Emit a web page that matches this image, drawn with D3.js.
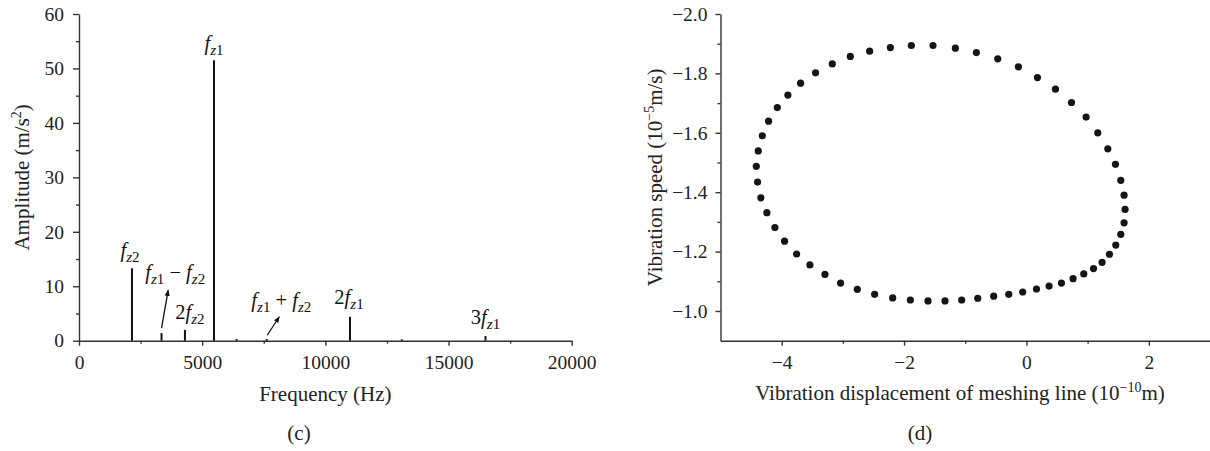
<!DOCTYPE html>
<html>
<head>
<meta charset="utf-8">
<script src="https://cdn.jsdelivr.net/npm/d3@7"></script>
<style>
  body { margin: 0; background: #fff; }
  svg { display: block; font-family: "Liberation Serif", "DejaVu Serif", serif; }
  .axis path, .axis line { stroke: #333; stroke-width: 1.4px; }
  .axis text { font-family: "Liberation Serif", serif; font-size: 19.5px; fill: #222; }
</style>
</head>
<body>
<div id="chart"></div>
<script>
// spectrum (c)
const spectrumFreq = [2150, 3350, 4300, 5480, 6400, 7620, 11000, 13100, 16500];
const spectrumAmp  = [13.3, 1.4, 2.0, 51.5, 0.3, 0.3, 4.4, 0.25, 0.85];
const freqTicks = [0, 5000, 10000, 15000, 20000];
const ampTicks = [0, 10, 20, 30, 40, 50, 60];

// peak labels: [frequency of peak, prefix, subscript]
const peakLabels = [
  [2150, "", "z2"],
  [5480, "", "z1"],
  [4300, "2", "z2"],
  [11000, "2", "z1"],
  [16500, "3", "z1"]
];
// arrow labels: [from freq, from amp, to freq, to amp, operator]
const arrowLabels = [
  [3350, 2.3, 3620, 9.3, "−"],
  [7640, 1.0, 8130, 4.4, "+"]
];

// phase portrait (d)
const dispX = [-4.111, -4.242, -4.340, -4.394, -4.415, -4.383, -4.317, -4.214, -4.072, -3.899,
  -3.691, -3.446, -3.173, -2.878, -2.563, -2.224, -1.881, -1.527, -1.161, -0.818,
  -0.469, -0.131, 0.180, 0.474, 0.736, 0.975, 1.166, 1.330, 1.455, 1.542,
  1.596, 1.612, 1.596, 1.542, 1.460, 1.357, 1.236, 1.096, 0.937, 0.762,
  0.572, 0.370, 0.164, -0.061, -0.289, -0.535, -0.796, -1.058, -1.331, -1.609,
  -1.897, -2.186, -2.481, -2.764, -3.037, -3.293, -3.539, -3.756, -3.953];
const speedY = [-1.281, -1.331, -1.381, -1.434, -1.487, -1.539, -1.590, -1.639, -1.685, -1.727,
  -1.767, -1.802, -1.832, -1.857, -1.875, -1.887, -1.894, -1.894, -1.885, -1.870,
  -1.849, -1.822, -1.786, -1.747, -1.702, -1.653, -1.600, -1.546, -1.494, -1.440,
  -1.390, -1.342, -1.297, -1.258, -1.222, -1.191, -1.164, -1.143, -1.125, -1.109,
  -1.094, -1.084, -1.074, -1.064, -1.056, -1.050, -1.043, -1.037, -1.034, -1.034,
  -1.037, -1.044, -1.056, -1.073, -1.094, -1.123, -1.155, -1.192, -1.235];
const dispTicks = [-4, -2, 0, 2];
const speedTicks = [-2.0, -1.8, -1.6, -1.4, -1.2, -1.0];

const W = 1210, H = 451;
const TITLE = 21;
const svg = d3.select("#chart").append("svg")
  .attr("width", W).attr("height", H)
  .attr("viewBox", `0 0 ${W} ${H}`);

svg.append("defs").append("marker")
  .attr("id", "arrow")
  .attr("viewBox", "0 0 10 10")
  .attr("refX", 9).attr("refY", 5)
  .attr("markerWidth", 5).attr("markerHeight", 5)
  .attr("orient", "auto")
  .append("path").attr("d", "M0,1 L10,5 L0,9 Z").attr("fill", "#111");

// ---------- (c) spectrum ----------
const xF = d3.scaleLinear().domain([0, 20000]).range([79, 571.7]);
const yA = d3.scaleLinear().domain([0, 60]).range([340.7, 14]);

// minor ticks
svg.append("g").attr("class", "axis")
  .attr("transform", `translate(0,${yA(0)})`)
  .call(d3.axisBottom(xF).tickValues([2500, 7500, 12500, 17500]).tickSize(3).tickFormat(""))
  .select(".domain").remove();
svg.append("g").attr("class", "axis")
  .attr("transform", `translate(${xF(0)},0)`)
  .call(d3.axisLeft(yA).tickValues([5, 15, 25, 35, 45, 55]).tickSize(3).tickFormat(""))
  .select(".domain").remove();

const gxF = svg.append("g").attr("class", "axis")
  .attr("transform", `translate(0,${yA(0)})`)
  .call(d3.axisBottom(xF).tickValues(freqTicks).tickSize(5).tickSizeOuter(0).tickFormat(d3.format("d")));
gxF.selectAll("text").attr("dy", null).attr("y", 28);

svg.append("g").attr("class", "axis")
  .attr("transform", `translate(${xF(0)},0)`)
  .call(d3.axisLeft(yA).tickValues(ampTicks).tickSize(6).tickSizeOuter(0).tickPadding(9));

svg.append("g").selectAll("line")
  .data(spectrumFreq)
  .join("line")
  .attr("x1", d => xF(d)).attr("x2", d => xF(d))
  .attr("y1", yA(0))
  .attr("y2", (d, i) => yA(spectrumAmp[i]))
  .attr("stroke", "#111")
  .attr("stroke-width", 2);

function fLabel(sel, prefix, sub) {
  if (prefix) sel.append("tspan").text(prefix);
  sel.append("tspan").attr("font-style", "italic").text("f");
  sel.append("tspan").attr("font-size", 15).attr("dy", 5)
    .attr("font-style", "italic").text(sub[0]);
  sel.append("tspan").attr("font-size", 15).text(sub.slice(1));
}

const labelOffsets = { "z2:": [-2, -7], "z1:": [0, -6], "z2:2": [5, -7], "z1:2": [-1, -9], "z1:3": [0, -8] };
peakLabels.forEach(([f, pre, sub]) => {
  const amp = spectrumAmp[spectrumFreq.indexOf(f)];
  const off = labelOffsets[sub + ":" + pre];
  const t = svg.append("text")
    .attr("x", xF(f) + off[0]).attr("y", yA(amp) + off[1] - 4)
    .attr("text-anchor", "middle")
    .attr("font-size", 20.5).attr("fill", "#111");
  fLabel(t, pre, sub);
});

const arrowOffsets = [[7, -7], [2, -6]];
arrowLabels.forEach(([f0, a0, f1, a1, op], i) => {
  svg.append("line")
    .attr("x1", xF(f0)).attr("y1", yA(a0))
    .attr("x2", xF(f1)).attr("y2", yA(a1))
    .attr("stroke", "#111").attr("stroke-width", 1.3)
    .attr("marker-end", "url(#arrow)");
  const t = svg.append("text")
    .attr("x", xF(f1) + arrowOffsets[i][0]).attr("y", yA(a1) + arrowOffsets[i][1] - 4)
    .attr("text-anchor", "middle")
    .attr("font-size", 20.5).attr("fill", "#111");
  fLabel(t, "", "z1");
  t.append("tspan").attr("dy", -5).text(" " + op + " ");
  fLabel(t, "", "z2");
});

svg.append("text")
  .attr("x", (xF.range()[0] + xF.range()[1]) / 2).attr("y", 401)
  .attr("text-anchor", "middle").attr("font-size", TITLE).attr("fill", "#222")
  .text("Frequency (Hz)");

const yTitleL = svg.append("text")
  .attr("transform", `translate(29,${(yA.range()[0] + yA.range()[1]) / 2}) rotate(-90)`)
  .attr("text-anchor", "middle").attr("font-size", TITLE).attr("fill", "#222");
yTitleL.append("tspan").text("Amplitude (m/s");
yTitleL.append("tspan").attr("font-size", 14).attr("dy", -8).text("2");
yTitleL.append("tspan").attr("dy", 8).text(")");

svg.append("text")
  .attr("x", 299).attr("y", 440)
  .attr("text-anchor", "middle").attr("font-size", TITLE).attr("fill", "#222")
  .text("(c)");

// ---------- (d) phase portrait ----------
const xD = d3.scaleLinear().domain([-5, 3]).range([720.5, 1210]);
const yS = d3.scaleLinear().domain([-0.9, -2.0]).range([340.7, 14]);

svg.append("g").attr("class", "axis")
  .attr("transform", `translate(0,${yS(-0.9)})`)
  .call(d3.axisBottom(xD).tickValues([-3, -1, 1]).tickSize(3).tickFormat(""))
  .select(".domain").remove();
svg.append("g").attr("class", "axis")
  .attr("transform", `translate(${xD(-5)},0)`)
  .call(d3.axisLeft(yS).tickValues([-1.9, -1.7, -1.5, -1.3, -1.1]).tickSize(3).tickFormat(""))
  .select(".domain").remove();

const gxD = svg.append("g").attr("class", "axis")
  .attr("transform", `translate(0,${yS(-0.9)})`)
  .call(d3.axisBottom(xD).tickValues(dispTicks).tickSize(5).tickSizeOuter(0).tickFormat(d3.format("d")));
gxD.selectAll("text").attr("dy", null).attr("y", 28);

svg.append("g").attr("class", "axis")
  .attr("transform", `translate(${xD(-5)},0)`)
  .call(d3.axisLeft(yS).tickValues(speedTicks).tickSize(5).tickSizeOuter(0).tickPadding(8)
    .tickFormat(d3.format(".1f")));

svg.append("g").selectAll("circle")
  .data(dispX)
  .join("circle")
  .attr("cx", d => xD(d))
  .attr("cy", (d, i) => yS(speedY[i]))
  .attr("r", 3.6)
  .attr("fill", "#151515");

const xTitleR = svg.append("text")
  .attr("x", 960).attr("y", 400)
  .attr("text-anchor", "middle").attr("font-size", TITLE).attr("fill", "#222");
xTitleR.append("tspan").text("Vibration displacement of meshing line (10");
xTitleR.append("tspan").attr("font-size", 14).attr("dy", -8).text("−10");
xTitleR.append("tspan").attr("dy", 8).text("m)");

const yTitleR = svg.append("text")
  .attr("transform", `translate(662,${(yS.range()[0] + yS.range()[1]) / 2}) rotate(-90)`)
  .attr("text-anchor", "middle").attr("font-size", TITLE).attr("fill", "#222");
yTitleR.append("tspan").text("Vibration speed (10");
yTitleR.append("tspan").attr("font-size", 14).attr("dy", -8).text("−5");
yTitleR.append("tspan").attr("dy", 8).text("m/s)");

svg.append("text")
  .attr("x", 920).attr("y", 440)
  .attr("text-anchor", "middle").attr("font-size", TITLE).attr("fill", "#222")
  .text("(d)");
</script>
</body>
</html>
